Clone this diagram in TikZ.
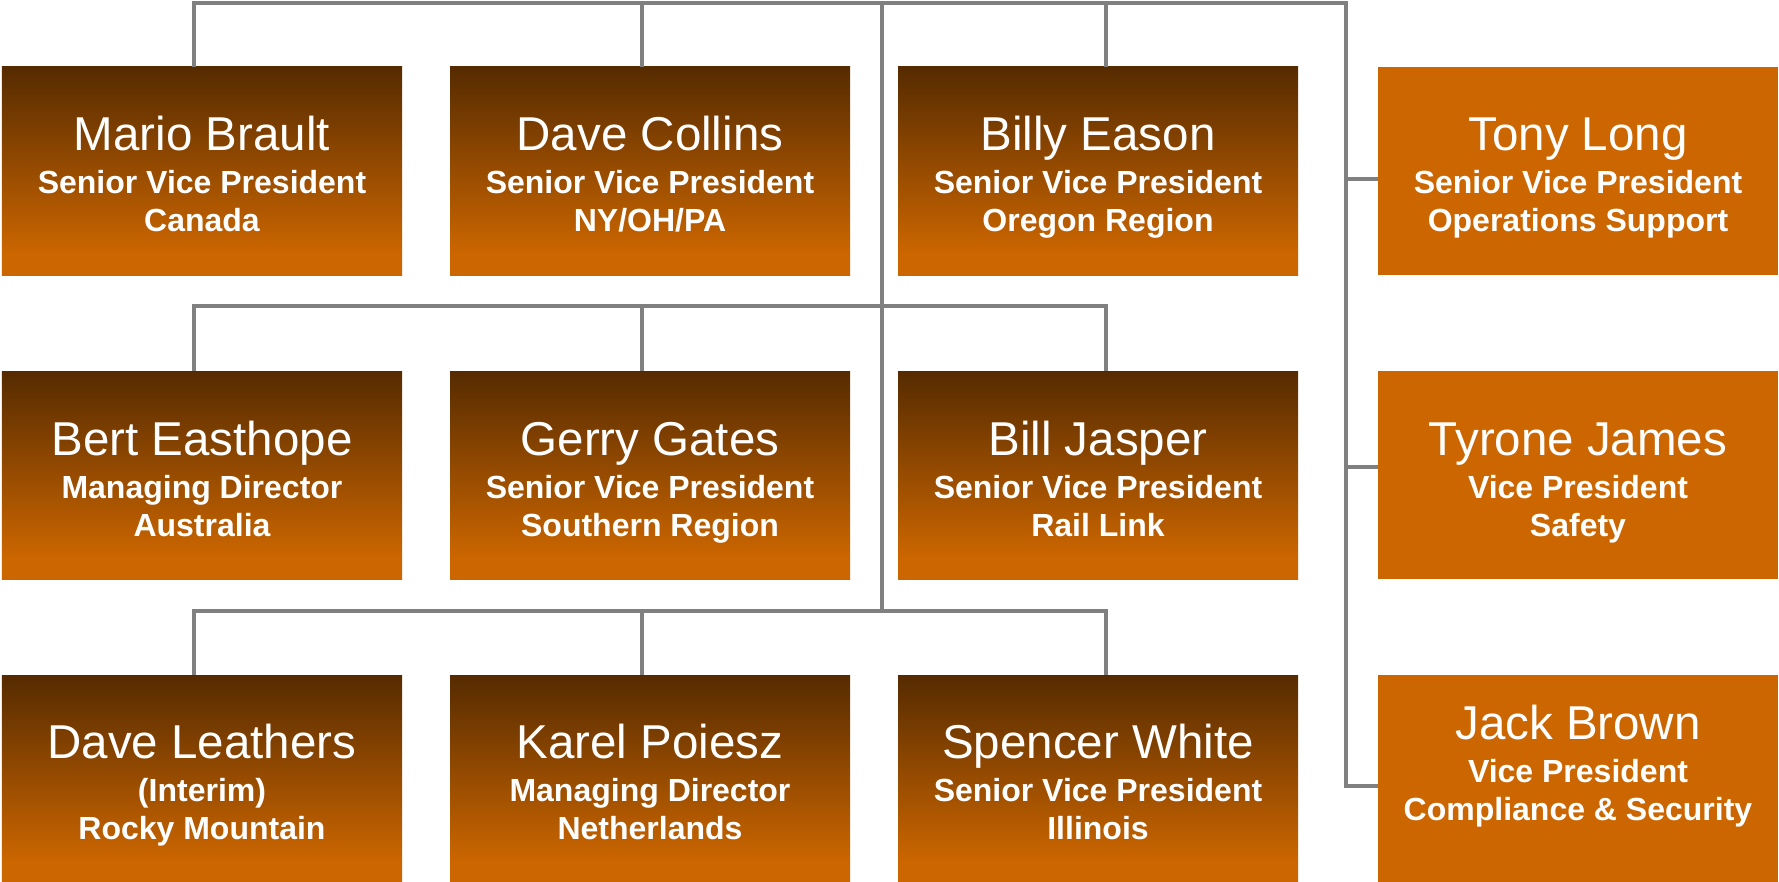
\documentclass[tikz,border=0pt]{standalone}
\usepackage{fontspec}
\setmainfont{Liberation Sans}
\definecolor{boxbrown}{HTML}{562B00}
\definecolor{boxorange}{HTML}{CC6600}
\definecolor{linegray}{HTML}{808080}
% brown at the top, orange over the lowest tenth of the card
\pgfdeclareverticalshading{cardshade}{100bp}{color(0bp)=(boxorange); color(30bp)=(boxorange); color(75bp)=(boxbrown); color(100bp)=(boxbrown)}

% card contents: #1 = depth of the name's baseline below the top edge
\newcommand\cardtext[4]{%
  \vbox to 208bp{\offinterlineskip\hsize=400bp
    \vskip #1\relax
    \hbox to 400bp{\hss\smash{\fontsize{47.5bp}{50bp}\selectfont #2}\hss}%
    \vskip 43bp
    \hbox to 400bp{\hss\smash{\fontsize{32bp}{36bp}\selectfont\bfseries #3}\hss}%
    \vskip 38bp
    \hbox to 400bp{\hss\smash{\fontsize{32bp}{36bp}\selectfont\bfseries #4}\hss}%
    \vfill}}

\begin{document}
\begin{tikzpicture}[x=1bp,y=-1bp,
  card/.style={rectangle, inner sep=0pt, outer sep=0pt, minimum width=400bp, minimum height=208bp, text=white},
  darkcard/.style={card, shading=cardshade},
  flatcard/.style={card, fill=boxorange},
  conn/.style={draw=linegray, line width=3.3bp}]
\useasboundingbox (0,0) rectangle (1779,882);

% regional heads
\node[darkcard] (mb) at (202,171)  {\cardtext{83bp}{Mario Brault}{Senior Vice President}{Canada}};
\node[darkcard] (dc) at (650,171)  {\cardtext{83bp}{Dave Collins}{Senior Vice President}{NY/OH/PA}};
\node[darkcard] (be) at (1098,171) {\cardtext{83bp}{Billy Eason}{Senior Vice President}{Oregon Region}};
\node[darkcard] (bh) at (202,475)  {\cardtext{84bp}{Bert Easthope}{Managing Director}{Australia}};
\node[darkcard] (gg) at (650,475)  {\cardtext{84bp}{Gerry Gates}{Senior Vice President}{Southern Region}};
\node[darkcard] (bj) at (1098,475) {\cardtext{84bp}{Bill Jasper}{Senior Vice President}{Rail Link}};
\node[darkcard] (dl) at (202,779)  {\cardtext{83bp}{Dave Leathers}{(Interim)}{Rocky Mountain}};
\node[darkcard] (kp) at (650,779)  {\cardtext{83bp}{Karel Poiesz}{Managing Director}{Netherlands}};
\node[darkcard] (sw) at (1098,779) {\cardtext{83bp}{Spencer White}{Senior Vice President}{Illinois}};

% staff functions
\node[flatcard] (tl) at (1578,171) {\cardtext{83bp}{Tony Long}{Senior Vice President}{Operations Support}};
\node[flatcard] (tj) at (1578,475) {\cardtext{84bp}{Tyrone James}{Vice President}{Safety}};
\node[flatcard] (jb) at (1578,779) {\cardtext{64bp}{Jack Brown}{Vice President}{Compliance \& Security}};

% trunk and buses
\coordinate (busA) at (882,3);
\coordinate (busB) at (882,306);
\coordinate (busC) at (882,611);
\coordinate (rail) at (1346,3);

\draw[conn] ([xshift=-8bp]mb.north) |- (rail) |- ([yshift=-7bp]jb.west);
\draw[conn] ([xshift=-8bp]dc.north) -- ([xshift=-8bp]dc.north |- busA);
\draw[conn] ([xshift=8bp]be.north) -- ([xshift=8bp]be.north |- busA);
\draw[conn] (busA) -- (busC);

\draw[conn] ([xshift=-8bp]bh.north) |- (busB) -| ([xshift=8bp]bj.north);
\draw[conn] ([xshift=-8bp]gg.north) -- ([xshift=-8bp]gg.north |- busB);

\draw[conn] ([xshift=-8bp]dl.north) |- (busC) -| ([xshift=8bp]sw.north);
\draw[conn] ([xshift=-8bp]kp.north) -- ([xshift=-8bp]kp.north |- busC);

\draw[conn] ([yshift=-8bp]tl.west) -- ([yshift=-8bp]tl.west -| rail);
\draw[conn] ([yshift=8bp]tj.west) -- ([yshift=8bp]tj.west -| rail);
\end{tikzpicture}
\end{document}
